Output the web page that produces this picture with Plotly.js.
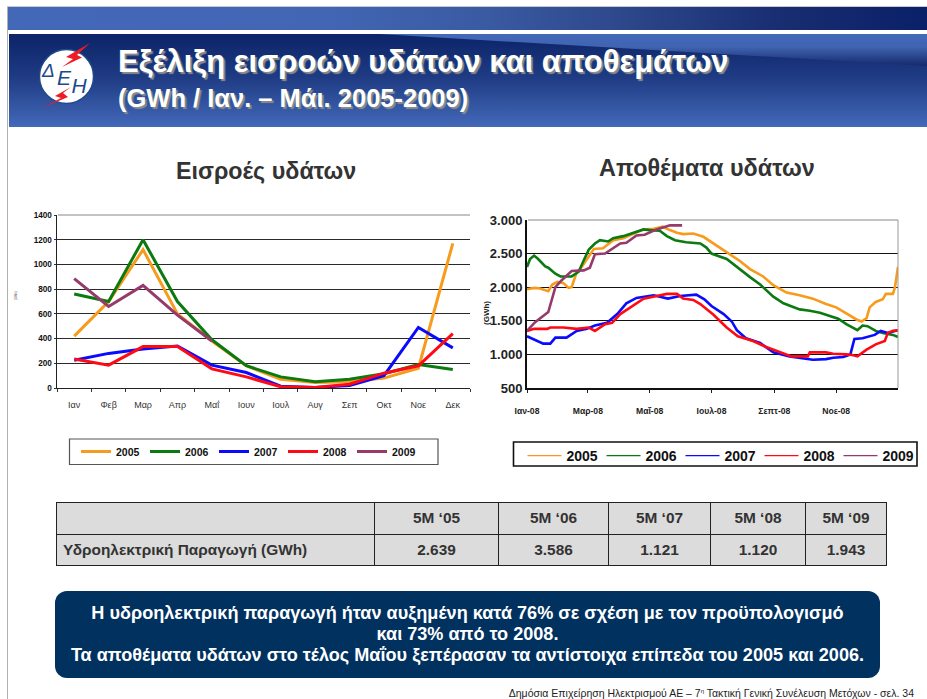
<!DOCTYPE html>
<html><head><meta charset="utf-8">
<script src="https://cdn.plot.ly/plotly-3.0.1.min.js"></script>
<style>
html,body{margin:0;padding:0;background:#fff;font-family:"Liberation Sans",Arial,sans-serif;}
#page{position:relative;width:927px;height:699px;overflow:hidden;}
.abs{position:absolute;}
#edge{left:7px;top:6px;width:1px;height:693px;background:#b0b0b0;}
#topline{left:7px;top:6px;width:920px;height:1px;background:#c8c8c8;}
#topbar{left:8px;top:7px;width:919px;height:23px;background:linear-gradient(90deg,#4468b8 0%,#4266b4 35%,#3a5aa2 52%,#2f4a8e 65%,#182c70 85%,#0a2068 100%);}
#band{left:9px;top:34px;width:918px;height:93px;overflow:hidden;}
#band svg{position:absolute;left:0;top:0;}
#t1{left:118px;top:45px;font-weight:bold;font-size:31px;line-height:34px;color:#fff;text-shadow:2px 2px 1px #8c8c8c;white-space:nowrap;}
#t2{left:118px;top:84px;font-weight:bold;font-size:25.5px;line-height:28px;color:#fff;text-shadow:2px 2px 1px #8c8c8c;white-space:nowrap;}
#logo{left:30px;top:35px;}
#chart{left:0;top:0;width:927px;height:699px;}
table#tb{position:absolute;left:56px;top:502px;width:830px;height:64px;border-collapse:collapse;table-layout:fixed;}
#tb td{border:1.5px solid #222;background:#dcdcdc;color:#333;font-weight:bold;font-size:15.4px;text-align:center;padding:0;}
#tb td.lab{text-align:left;padding-left:6px;}
#call{left:55px;top:591px;width:825px;height:87px;background:#00315f;border-radius:12px;color:#fff;font-weight:bold;font-size:18.1px;line-height:21px;text-align:center;padding-top:12px;box-sizing:border-box;}
#foot{right:13px;top:687px;font-size:10.5px;line-height:12px;color:#222;white-space:nowrap;}
#foot sup{font-size:6px;line-height:0;}
</style></head><body>
<div id="page">
<div class="abs" id="edge"></div>
<div class="abs" id="topline"></div>
<div class="abs" id="topbar"></div>
<div class="abs" id="band">
<svg width="918" height="93" viewBox="0 0 918 93">
<defs><linearGradient id="g1" x1="0" y1="0" x2="0" y2="1"><stop offset="0" stop-color="#0c2468"/><stop offset="0.45" stop-color="#1e3a82"/><stop offset="1" stop-color="#4369b9"/></linearGradient>
<linearGradient id="g2" gradientUnits="userSpaceOnUse" x1="0" y1="0" x2="0" y2="32"><stop offset="0" stop-color="#4369b9"/><stop offset="0.4" stop-color="#4064b0"/><stop offset="1" stop-color="#14286c"/></linearGradient></defs>
<rect width="918" height="93" fill="url(#g1)"/>
<path d="M370 0H918V32Z" fill="url(#g2)"/>
</svg>
</div>
<div class="abs" id="t1">Εξέλιξη εισροών υδάτων και αποθεμάτων</div>
<div class="abs" id="t2">(GWh / Ιαν. – Μάι. 2005-2009)</div>
<svg class="abs" id="logo" width="80" height="80" viewBox="0 0 80 80">
<circle cx="36.5" cy="41.5" r="27" fill="#fff" stroke="#1c4a8c" stroke-width="1.4"/>
<text font-style="italic" fill="#1c4a8c" font-family="Liberation Sans"><tspan x="12" y="42" font-size="19">Δ</tspan><tspan x="27" y="50" font-size="21">Ε</tspan><tspan x="41.5" y="58" font-size="21">Η</tspan></text>
<path d="M60 8 L36 22 L43 24 L32 32 L52 22.5 L47 20 Z" fill="#ee1c25"/>
<path d="M41 52 L25 61 L31 63 L12 73 L38 62 L33 58 Z" fill="#ee1c25"/>
</svg>
<div class="abs" id="chart"></div>
<table id="tb"><colgroup id="cg"></colgroup><tbody id="tbb"></tbody></table>
<div class="abs" id="call">Η υδροηλεκτρική παραγωγή ήταν αυξημένη κατά 76% σε σχέση με τον προϋπολογισμό<br>και 73% από το 2008.<br>Τα αποθέματα υδάτων στο τέλος Μαΐου ξεπέρασαν τα αντίστοιχα επίπεδα του 2005 και 2006.</div>
<div class="abs" id="foot">Δημόσια Επιχείρηση Ηλεκτρισμού ΑΕ – 7<sup>η</sup> Τακτική Γενική Συνέλευση Μετόχων  - σελ. 34</div>
</div>
<script>
// ---- data ----
const years = ['2005','2006','2007','2008','2009'];
const colors = ['#f79b1c','#0b7a10','#0a0aff','#ff0a14','#953a6a'];
const months = ['Ιαν','Φεβ','Μαρ','Απρ','Μαΐ','Ιουν','Ιουλ','Αυγ','Σεπ','Οκτ','Νοε','Δεκ'];
const inflow2005 = [420,700,1120,600,380,180,70,45,50,80,160,1170];
const inflow2006 = [760,700,1200,700,390,180,90,50,70,115,190,150];
const inflow2007 = [225,280,315,340,185,125,15,5,20,100,490,325];
const inflow2008 = [235,185,335,335,155,90,10,5,30,120,180,440];
const inflow2009 = [885,660,830,590,380];
const inflows = [inflow2005,inflow2006,inflow2007,inflow2008,inflow2009];

const stockTickDays = [0,60,121,182,244,305];
const stockTickText = ['Ιαν-08','Μαρ-08','Μαΐ-08','Ιουλ-08','Σεπτ-08','Νοε-08'];
const days2005 = [0,7,13,21,25,30,36,41,44,49,54,59,66,75,85,95,105,115,125,134,141,148,154,164,174,184,197,210,220,233,243,256,269,282,295,305,315,325,330,335,338,344,351,354,361,363,366];
const stock2005 = [1970,1990,1980,1940,2040,2080,2060,1990,2000,2220,2300,2420,2570,2580,2700,2730,2800,2860,2870,2900,2850,2810,2790,2800,2750,2650,2530,2390,2270,2160,2030,1920,1880,1830,1750,1700,1610,1520,1490,1540,1700,1780,1820,1900,1900,2000,2300];
const days2006 = [0,3,7,11,18,21,28,33,44,51,56,61,67,72,80,85,95,105,115,121,131,138,146,157,171,177,182,197,210,220,230,243,253,269,279,289,307,315,326,331,336,344,351,361,366];
const stock2006 = [2300,2420,2470,2420,2310,2290,2200,2160,2160,2230,2400,2560,2650,2700,2680,2730,2760,2810,2860,2850,2840,2760,2700,2670,2650,2590,2500,2420,2260,2150,2040,1860,1760,1670,1650,1620,1530,1450,1360,1430,1420,1350,1320,1290,1260];
const days2007 = [0,8,16,23,28,39,49,59,67,79,89,98,108,125,139,151,167,175,182,194,202,207,216,230,243,259,282,295,302,312,319,323,331,343,349,356,366];
const stock2007 = [1270,1220,1160,1160,1250,1250,1350,1380,1430,1470,1600,1760,1840,1880,1830,1870,1890,1820,1720,1600,1490,1360,1240,1170,1030,970,920,930,950,960,1000,1230,1240,1290,1350,1320,1360];
const days2008 = [0,7,20,23,36,49,61,67,77,84,92,102,115,128,138,148,154,164,171,184,197,208,223,236,249,261,277,279,295,302,315,321,326,335,344,353,356,361,366];
const stock2008 = [1350,1380,1380,1400,1400,1380,1400,1350,1450,1470,1600,1700,1830,1870,1900,1900,1830,1810,1750,1590,1400,1270,1200,1110,1040,970,970,1030,1030,1010,1000,990,970,1070,1150,1200,1320,1350,1360];
const days2009 = [0,8,21,28,34,44,56,62,67,77,92,98,108,116,128,141,153];
const stock2009 = [1350,1480,1630,2000,2100,2240,2250,2290,2490,2500,2650,2660,2770,2780,2860,2920,2920];
const stockDays = [days2005,days2006,days2007,days2008,days2009];
const stocks = [stock2005,stock2006,stock2007,stock2008,stock2009];

const tableHead = ['', "5M ‘05","5M ‘06","5M ‘07","5M ‘08","5M ‘09"];
const tableRow = ['Υδροηλεκτρική Παραγωγή (GWh)','2.639','3.586','1.121','1.120','1.943'];
const tableWidths = [318,124,110,102,95,81];

// ---- table ----
document.getElementById('cg').innerHTML = tableWidths.map(w=>'<col style="width:'+w+'px">').join('');
document.getElementById('tbb').innerHTML = [tableHead,tableRow].map(r=>'<tr>'+r.map((c,i)=>'<td'+(i==0?' class="lab"':'')+'>'+c+'</td>').join('')+'</tr>').join('');

// ---- charts ----
const W=927,H=699;
const px=v=>v/W, py=v=>1-v/H;
const traces=[];
years.forEach((y,i)=>{
  traces.push({type:'scatter',mode:'lines',name:y,x:months.slice(0,inflows[i].length),y:inflows[i],
    line:{color:colors[i],width:3},xaxis:'x',yaxis:'y',legend:'legend'});
});
years.forEach((y,i)=>{
  traces.push({type:'scatter',mode:'lines',name:y,x:stockDays[i],y:stocks[i],
    line:{color:colors[i],width:2.6},xaxis:'x2',yaxis:'y2',showlegend:false});
});
years.forEach((y,i)=>{
  traces.push({type:'scatter',mode:'lines',name:y,x:[null],y:[null],
    line:{color:colors[i],width:1.4},xaxis:'x2',yaxis:'y2',legend:'legend2',hoverinfo:'skip'});
});
const layout={
  width:W,height:H,margin:{l:0,r:0,t:0,b:0,autoexpand:false},paper_bgcolor:'rgba(0,0,0,0)',plot_bgcolor:'rgba(0,0,0,0)',
  font:{family:'Liberation Sans',color:'#222'},
  xaxis:{domain:[px(57),px(470)],anchor:'y',type:'category',categoryorder:'array',categoryarray:months,range:[-0.5,11.5],
    tickson:'boundaries',ticks:'outside',ticklen:3,tickcolor:'#333',showline:true,linecolor:'#222',linewidth:1,showgrid:false,
    tickfont:{size:9,color:'#333'},ticklabelstandoff:8,zeroline:false},
  yaxis:{domain:[py(388),py(215)],anchor:'x',range:[0,1400],dtick:200,showgrid:true,gridcolor:'#2a2a2a',gridwidth:1.2,zeroline:false,
    showline:true,linecolor:'#222',linewidth:1.5,ticks:'outside',ticklen:2,tickcolor:'#333',
    tickfont:{size:8.2,color:'#111',weight:'bold'}},
  xaxis2:{domain:[px(527),px(898)],anchor:'y2',range:[0,366],tickmode:'array',tickvals:stockTickDays,ticktext:stockTickText,
    ticks:'outside',ticklen:3,tickcolor:'#222',showline:true,linecolor:'#111',linewidth:2,showgrid:false,zeroline:false,
    tickfont:{size:8.6,color:'#222',weight:'bold'},ticklabelstandoff:11},
  yaxis2:{domain:[py(388),py(220)],anchor:'x2',range:[500,3000],tickmode:'array',tickvals:[500,1000,1500,2000,2500,3000],
    ticktext:['500','1.000','1.500','2.000','2.500','3.000'],showgrid:true,gridcolor:'#111',gridwidth:1.2,zeroline:false,
    showline:true,linecolor:'#111',linewidth:2,ticks:'',
    tickfont:{size:13,color:'#222',weight:'bold'}},
  legend:{orientation:'h',xref:'container',yref:'container',x:px(76),xanchor:'left',y:py(437),yanchor:'top',borderwidth:0,
    font:{size:10.5,color:'#111',weight:'bold'},entrywidth:24,entrywidthmode:'pixels',bgcolor:'rgba(0,0,0,0)'},
  legend2:{orientation:'h',xref:'container',yref:'container',x:px(522.5),xanchor:'left',y:py(440),yanchor:'top',borderwidth:0,
    font:{size:14,color:'#111',weight:'bold'},itemwidth:34,entrywidth:30,entrywidthmode:'pixels',bgcolor:'rgba(0,0,0,0)'},
  shapes:[
    {type:'line',xref:'paper',yref:'paper',x0:px(58),x1:px(470),y0:py(215),y1:py(215),line:{color:'#fff',width:2.4}},
    {type:'line',xref:'paper',yref:'paper',x0:px(58),x1:px(470),y0:py(215),y1:py(215),line:{color:'#888',width:1}},
    {type:'line',xref:'paper',yref:'paper',x0:px(528),x1:px(898),y0:py(220),y1:py(220),line:{color:'#fff',width:2.4}},
    {type:'line',xref:'paper',yref:'paper',x0:px(528),x1:px(898),y0:py(220),y1:py(220),line:{color:'#888',width:1}},
    {type:'line',xref:'paper',yref:'paper',x0:px(898),x1:px(898),y0:py(220),y1:py(388),line:{color:'#999',width:1}},
    {type:'rect',xref:'paper',yref:'paper',x0:px(69.5),x1:px(438),y0:py(439),y1:py(464.5),line:{color:'#555',width:1.2}},
    {type:'rect',xref:'paper',yref:'paper',x0:px(513.5),x1:px(917),y0:py(442),y1:py(466),line:{color:'#111',width:1.6}}
  ],
  annotations:[
    {text:'<b>Εισροές υδάτων</b>',xref:'paper',yref:'paper',x:px(266),y:py(171),xanchor:'center',yanchor:'middle',showarrow:false,font:{size:23.3,color:'#333'}},
    {text:'<b>Αποθέματα υδάτων</b>',xref:'paper',yref:'paper',x:px(707),y:py(168),xanchor:'center',yanchor:'middle',showarrow:false,font:{size:23.4,color:'#333'}},
    {text:'(GWh)',xref:'paper',yref:'paper',x:px(486),y:py(313),textangle:-90,xanchor:'center',yanchor:'middle',showarrow:false,font:{size:8,color:'#222',weight:'bold'}},
    {text:'(GWh)',xref:'paper',yref:'paper',x:px(16),y:py(295),textangle:-90,xanchor:'center',yanchor:'middle',showarrow:false,font:{size:3,color:'#555'}}
  ]
};
Plotly.newPlot('chart',traces,layout,{displayModeBar:false,staticPlot:true});
</script>
</body></html>
